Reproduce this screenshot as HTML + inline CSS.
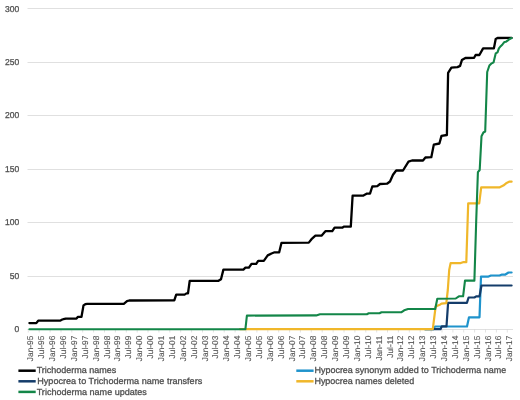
<!DOCTYPE html>
<html><head><meta charset="utf-8"><style>
html,body{margin:0;padding:0;background:#fff;}
svg{display:block;will-change:transform;}
text{font-family:"Liberation Sans",sans-serif;text-rendering:geometricPrecision;fill:#505050;stroke:#505050;stroke-width:0.3px;}
.xl{stroke-width:0.12px;fill:#555;stroke:#555;}
</style></head><body>
<svg width="520" height="400" viewBox="0 0 520 400">
<rect width="520" height="400" fill="#fff"/>

<line x1="27.5" y1="329.5" x2="513" y2="329.5" stroke="#e0e0e0" stroke-width="1"/>
<line x1="27.5" y1="276.5" x2="513" y2="276.5" stroke="#e0e0e0" stroke-width="1"/>
<line x1="27.5" y1="222.5" x2="513" y2="222.5" stroke="#e0e0e0" stroke-width="1"/>
<line x1="27.5" y1="169.5" x2="513" y2="169.5" stroke="#e0e0e0" stroke-width="1"/>
<line x1="27.5" y1="115.5" x2="513" y2="115.5" stroke="#e0e0e0" stroke-width="1"/>
<line x1="27.5" y1="62.5" x2="513" y2="62.5" stroke="#e0e0e0" stroke-width="1"/>
<line x1="27.5" y1="8.5" x2="513" y2="8.5" stroke="#e0e0e0" stroke-width="1"/>
<line x1="28.3" y1="329.0" x2="28.3" y2="332.5" stroke="#d9d9d9" stroke-width="0.75"/>
<line x1="39.2" y1="329.0" x2="39.2" y2="332.5" stroke="#d9d9d9" stroke-width="0.75"/>
<line x1="50.1" y1="329.0" x2="50.1" y2="332.5" stroke="#d9d9d9" stroke-width="0.75"/>
<line x1="61.0" y1="329.0" x2="61.0" y2="332.5" stroke="#d9d9d9" stroke-width="0.75"/>
<line x1="71.8" y1="329.0" x2="71.8" y2="332.5" stroke="#d9d9d9" stroke-width="0.75"/>
<line x1="82.7" y1="329.0" x2="82.7" y2="332.5" stroke="#d9d9d9" stroke-width="0.75"/>
<line x1="93.6" y1="329.0" x2="93.6" y2="332.5" stroke="#d9d9d9" stroke-width="0.75"/>
<line x1="104.5" y1="329.0" x2="104.5" y2="332.5" stroke="#d9d9d9" stroke-width="0.75"/>
<line x1="115.4" y1="329.0" x2="115.4" y2="332.5" stroke="#d9d9d9" stroke-width="0.75"/>
<line x1="126.3" y1="329.0" x2="126.3" y2="332.5" stroke="#d9d9d9" stroke-width="0.75"/>
<line x1="137.2" y1="329.0" x2="137.2" y2="332.5" stroke="#d9d9d9" stroke-width="0.75"/>
<line x1="148.0" y1="329.0" x2="148.0" y2="332.5" stroke="#d9d9d9" stroke-width="0.75"/>
<line x1="158.9" y1="329.0" x2="158.9" y2="332.5" stroke="#d9d9d9" stroke-width="0.75"/>
<line x1="169.8" y1="329.0" x2="169.8" y2="332.5" stroke="#d9d9d9" stroke-width="0.75"/>
<line x1="180.7" y1="329.0" x2="180.7" y2="332.5" stroke="#d9d9d9" stroke-width="0.75"/>
<line x1="191.6" y1="329.0" x2="191.6" y2="332.5" stroke="#d9d9d9" stroke-width="0.75"/>
<line x1="202.5" y1="329.0" x2="202.5" y2="332.5" stroke="#d9d9d9" stroke-width="0.75"/>
<line x1="213.4" y1="329.0" x2="213.4" y2="332.5" stroke="#d9d9d9" stroke-width="0.75"/>
<line x1="224.2" y1="329.0" x2="224.2" y2="332.5" stroke="#d9d9d9" stroke-width="0.75"/>
<line x1="235.1" y1="329.0" x2="235.1" y2="332.5" stroke="#d9d9d9" stroke-width="0.75"/>
<line x1="246.0" y1="329.0" x2="246.0" y2="332.5" stroke="#d9d9d9" stroke-width="0.75"/>
<line x1="256.9" y1="329.0" x2="256.9" y2="332.5" stroke="#d9d9d9" stroke-width="0.75"/>
<line x1="267.8" y1="329.0" x2="267.8" y2="332.5" stroke="#d9d9d9" stroke-width="0.75"/>
<line x1="278.7" y1="329.0" x2="278.7" y2="332.5" stroke="#d9d9d9" stroke-width="0.75"/>
<line x1="289.6" y1="329.0" x2="289.6" y2="332.5" stroke="#d9d9d9" stroke-width="0.75"/>
<line x1="300.4" y1="329.0" x2="300.4" y2="332.5" stroke="#d9d9d9" stroke-width="0.75"/>
<line x1="311.3" y1="329.0" x2="311.3" y2="332.5" stroke="#d9d9d9" stroke-width="0.75"/>
<line x1="322.2" y1="329.0" x2="322.2" y2="332.5" stroke="#d9d9d9" stroke-width="0.75"/>
<line x1="333.1" y1="329.0" x2="333.1" y2="332.5" stroke="#d9d9d9" stroke-width="0.75"/>
<line x1="344.0" y1="329.0" x2="344.0" y2="332.5" stroke="#d9d9d9" stroke-width="0.75"/>
<line x1="354.9" y1="329.0" x2="354.9" y2="332.5" stroke="#d9d9d9" stroke-width="0.75"/>
<line x1="365.8" y1="329.0" x2="365.8" y2="332.5" stroke="#d9d9d9" stroke-width="0.75"/>
<line x1="376.7" y1="329.0" x2="376.7" y2="332.5" stroke="#d9d9d9" stroke-width="0.75"/>
<line x1="387.5" y1="329.0" x2="387.5" y2="332.5" stroke="#d9d9d9" stroke-width="0.75"/>
<line x1="398.4" y1="329.0" x2="398.4" y2="332.5" stroke="#d9d9d9" stroke-width="0.75"/>
<line x1="409.3" y1="329.0" x2="409.3" y2="332.5" stroke="#d9d9d9" stroke-width="0.75"/>
<line x1="420.2" y1="329.0" x2="420.2" y2="332.5" stroke="#d9d9d9" stroke-width="0.75"/>
<line x1="431.1" y1="329.0" x2="431.1" y2="332.5" stroke="#d9d9d9" stroke-width="0.75"/>
<line x1="442.0" y1="329.0" x2="442.0" y2="332.5" stroke="#d9d9d9" stroke-width="0.75"/>
<line x1="452.9" y1="329.0" x2="452.9" y2="332.5" stroke="#d9d9d9" stroke-width="0.75"/>
<line x1="463.7" y1="329.0" x2="463.7" y2="332.5" stroke="#d9d9d9" stroke-width="0.75"/>
<line x1="474.6" y1="329.0" x2="474.6" y2="332.5" stroke="#d9d9d9" stroke-width="0.75"/>
<line x1="485.5" y1="329.0" x2="485.5" y2="332.5" stroke="#d9d9d9" stroke-width="0.75"/>
<line x1="496.4" y1="329.0" x2="496.4" y2="332.5" stroke="#d9d9d9" stroke-width="0.75"/>
<line x1="507.3" y1="329.0" x2="507.3" y2="332.5" stroke="#d9d9d9" stroke-width="0.75"/>
<text x="19.2" y="332.1" font-size="8.5" text-anchor="end">0</text>
<text x="19.2" y="278.7" font-size="8.5" text-anchor="end">50</text>
<text x="19.2" y="225.2" font-size="8.5" text-anchor="end">100</text>
<text x="19.2" y="171.8" font-size="8.5" text-anchor="end">150</text>
<text x="19.2" y="118.4" font-size="8.5" text-anchor="end">200</text>
<text x="19.2" y="64.9" font-size="8.5" text-anchor="end">250</text>
<text x="19.2" y="11.5" font-size="8.5" text-anchor="end">300</text>
<text transform="translate(33.3,335.6) rotate(-90)" class="xl" font-size="8.4" text-anchor="end">Jan-95</text>
<text transform="translate(44.2,335.6) rotate(-90)" class="xl" font-size="8.4" text-anchor="end">Jul-95</text>
<text transform="translate(55.1,335.6) rotate(-90)" class="xl" font-size="8.4" text-anchor="end">Jan-96</text>
<text transform="translate(66.0,335.6) rotate(-90)" class="xl" font-size="8.4" text-anchor="end">Jul-96</text>
<text transform="translate(76.8,335.6) rotate(-90)" class="xl" font-size="8.4" text-anchor="end">Jan-97</text>
<text transform="translate(87.7,335.6) rotate(-90)" class="xl" font-size="8.4" text-anchor="end">Jul-97</text>
<text transform="translate(98.6,335.6) rotate(-90)" class="xl" font-size="8.4" text-anchor="end">Jan-98</text>
<text transform="translate(109.5,335.6) rotate(-90)" class="xl" font-size="8.4" text-anchor="end">Jul-98</text>
<text transform="translate(120.4,335.6) rotate(-90)" class="xl" font-size="8.4" text-anchor="end">Jan-99</text>
<text transform="translate(131.3,335.6) rotate(-90)" class="xl" font-size="8.4" text-anchor="end">Jul-99</text>
<text transform="translate(142.2,335.6) rotate(-90)" class="xl" font-size="8.4" text-anchor="end">Jan-00</text>
<text transform="translate(153.0,335.6) rotate(-90)" class="xl" font-size="8.4" text-anchor="end">Jul-00</text>
<text transform="translate(163.9,335.6) rotate(-90)" class="xl" font-size="8.4" text-anchor="end">Jan-01</text>
<text transform="translate(174.8,335.6) rotate(-90)" class="xl" font-size="8.4" text-anchor="end">Jul-01</text>
<text transform="translate(185.7,335.6) rotate(-90)" class="xl" font-size="8.4" text-anchor="end">Jan-02</text>
<text transform="translate(196.6,335.6) rotate(-90)" class="xl" font-size="8.4" text-anchor="end">Jul-02</text>
<text transform="translate(207.5,335.6) rotate(-90)" class="xl" font-size="8.4" text-anchor="end">Jan-03</text>
<text transform="translate(218.4,335.6) rotate(-90)" class="xl" font-size="8.4" text-anchor="end">Jul-03</text>
<text transform="translate(229.2,335.6) rotate(-90)" class="xl" font-size="8.4" text-anchor="end">Jan-04</text>
<text transform="translate(240.1,335.6) rotate(-90)" class="xl" font-size="8.4" text-anchor="end">Jul-04</text>
<text transform="translate(251.0,335.6) rotate(-90)" class="xl" font-size="8.4" text-anchor="end">Jan-05</text>
<text transform="translate(261.9,335.6) rotate(-90)" class="xl" font-size="8.4" text-anchor="end">Jul-05</text>
<text transform="translate(272.8,335.6) rotate(-90)" class="xl" font-size="8.4" text-anchor="end">Jan-06</text>
<text transform="translate(283.7,335.6) rotate(-90)" class="xl" font-size="8.4" text-anchor="end">Jul-06</text>
<text transform="translate(294.6,335.6) rotate(-90)" class="xl" font-size="8.4" text-anchor="end">Jan-07</text>
<text transform="translate(305.4,335.6) rotate(-90)" class="xl" font-size="8.4" text-anchor="end">Jul-07</text>
<text transform="translate(316.3,335.6) rotate(-90)" class="xl" font-size="8.4" text-anchor="end">Jan-08</text>
<text transform="translate(327.2,335.6) rotate(-90)" class="xl" font-size="8.4" text-anchor="end">Jul-08</text>
<text transform="translate(338.1,335.6) rotate(-90)" class="xl" font-size="8.4" text-anchor="end">Jan-09</text>
<text transform="translate(349.0,335.6) rotate(-90)" class="xl" font-size="8.4" text-anchor="end">Jul-09</text>
<text transform="translate(359.9,335.6) rotate(-90)" class="xl" font-size="8.4" text-anchor="end">Jan-10</text>
<text transform="translate(370.8,335.6) rotate(-90)" class="xl" font-size="8.4" text-anchor="end">Jul-10</text>
<text transform="translate(381.7,335.6) rotate(-90)" class="xl" font-size="8.4" text-anchor="end">Jan-11</text>
<text transform="translate(392.5,335.6) rotate(-90)" class="xl" font-size="8.4" text-anchor="end">Jul-11</text>
<text transform="translate(403.4,335.6) rotate(-90)" class="xl" font-size="8.4" text-anchor="end">Jan-12</text>
<text transform="translate(414.3,335.6) rotate(-90)" class="xl" font-size="8.4" text-anchor="end">Jul-12</text>
<text transform="translate(425.2,335.6) rotate(-90)" class="xl" font-size="8.4" text-anchor="end">Jan-13</text>
<text transform="translate(436.1,335.6) rotate(-90)" class="xl" font-size="8.4" text-anchor="end">Jul-13</text>
<text transform="translate(447.0,335.6) rotate(-90)" class="xl" font-size="8.4" text-anchor="end">Jan-14</text>
<text transform="translate(457.9,335.6) rotate(-90)" class="xl" font-size="8.4" text-anchor="end">Jul-14</text>
<text transform="translate(468.7,335.6) rotate(-90)" class="xl" font-size="8.4" text-anchor="end">Jan-15</text>
<text transform="translate(479.6,335.6) rotate(-90)" class="xl" font-size="8.4" text-anchor="end">Jul-15</text>
<text transform="translate(490.5,335.6) rotate(-90)" class="xl" font-size="8.4" text-anchor="end">Jan-16</text>
<text transform="translate(501.4,335.6) rotate(-90)" class="xl" font-size="8.4" text-anchor="end">Jul-16</text>
<text transform="translate(512.3,335.6) rotate(-90)" class="xl" font-size="8.4" text-anchor="end">Jan-17</text>
<polyline points="29.4,323.1 36.3,323.1 38.2,320.7 60.0,320.7 62.3,319.5 63.5,319.2 65.8,318.6 76.5,318.6 78.0,316.8 81.5,316.8 83.5,305.4 85.3,304.2 87.3,303.8 123.8,303.8 127.0,301.2 129.2,300.5 174.3,300.3 176.2,294.6 184.6,294.6 186.5,293.4 188.0,293.4 189.7,280.8 218.5,280.8 221.0,279.2 223.4,269.6 243.4,269.6 245.4,267.7 248.9,267.7 251.5,263.8 256.2,263.8 258.2,260.8 263.8,260.8 267.7,255.4 271.5,253.5 274.6,252.3 279.2,252.3 281.5,242.8 308.8,242.6 311.5,239.2 315.4,235.7 321.5,235.7 325.4,231.2 332.3,231.2 334.6,227.7 342.3,227.7 343.8,226.6 350.8,226.6 352.6,195.7 363.0,195.7 367.0,193.6 370.0,193.6 372.3,186.5 377.3,186.2 380.0,184.0 387.0,183.7 390.0,181.5 393.0,174.8 396.2,170.5 403.0,170.5 408.5,161.7 412.0,160.5 423.0,160.5 425.4,157.5 431.3,157.2 433.8,144.6 439.4,143.5 441.5,135.9 446.9,135.0 448.1,72.9 451.4,67.7 457.5,67.1 460.1,65.9 461.9,60.1 465.4,58.0 474.1,57.8 475.6,55.0 479.4,55.0 483.1,48.4 493.9,48.4 495.7,39.0 497.5,38.0 511.6,37.9" fill="none" stroke="#000000" stroke-width="2.3" stroke-linejoin="round" stroke-linecap="round"/>
<polyline points="425.0,329.2 433.3,329.2 435.0,326.5 467.0,326.5 469.0,317.3 479.5,317.3 481.0,276.6 488.5,276.6 491.0,275.5 499.5,275.5 501.5,274.7 505.0,274.7 508.5,272.5 511.6,272.5" fill="none" stroke="#1f93cc" stroke-width="2.2" stroke-linejoin="round" stroke-linecap="round"/>
<polyline points="425.0,329.2 440.5,329.2 441.8,326.3 446.5,326.3 448.1,302.9 466.9,302.9 468.6,297.5 474.4,297.5 476.2,296.3 479.5,296.3 481.5,285.5 511.6,285.5" fill="none" stroke="#143c6a" stroke-width="2.2" stroke-linejoin="round" stroke-linecap="round"/>
<polyline points="240.0,329.2 432.8,329.2 435.6,306.8 437.3,305.8 440.0,304.7 441.5,303.7 446.3,303.1 447.8,290.0 449.2,270.0 450.6,263.1 460.7,263.1 463.0,262.2 466.3,262.2 468.2,203.4 479.2,203.4 481.2,187.3 499.8,187.3 503.3,185.6 506.1,183.3 509.6,181.5 511.6,181.7" fill="none" stroke="#f0b72a" stroke-width="2.2" stroke-linejoin="round" stroke-linecap="round"/>
<polyline points="29.4,329.2 245.4,329.2 246.9,315.6 316.2,315.4 320.0,314.2 366.9,314.2 368.8,313.2 379.5,313.2 381.5,312.2 401.6,312.2 404.2,310.3 408.1,309.0 435.2,309.0 437.3,298.8 455.7,298.5 458.9,296.3 463.1,296.3 465.0,280.6 474.4,280.6 476.2,221.0 477.9,172.2 479.7,170.0 481.5,136.2 483.4,132.5 485.2,131.5 487.2,72.0 489.4,65.5 491.2,63.7 493.6,62.3 495.7,53.4 497.5,52.3 498.9,48.4 500.7,46.2 502.5,44.4 504.3,42.1 506.1,41.7 507.9,40.3 509.7,39.0 511.6,38.0" fill="none" stroke="#138648" stroke-width="2.1" stroke-linejoin="round" stroke-linecap="round"/>
<line x1="18.4" y1="370.7" x2="35.7" y2="370.7" stroke="#000000" stroke-width="2.5"/>
<text x="36.68" y="373.3" font-size="8.8" textLength="79.66" lengthAdjust="spacingAndGlyphs">Trichoderma names</text>
<line x1="18.4" y1="381.3" x2="35.7" y2="381.3" stroke="#143c6a" stroke-width="2.5"/>
<text x="37.26" y="383.9" font-size="8.8" textLength="164.98" lengthAdjust="spacingAndGlyphs">Hypocrea to Trichoderma name transfers</text>
<line x1="18.4" y1="391.9" x2="35.7" y2="391.9" stroke="#138648" stroke-width="2.5"/>
<text x="36.70" y="394.5" font-size="8.8" textLength="110.15" lengthAdjust="spacingAndGlyphs">Trichoderma name updates</text>
<line x1="296.3" y1="370.7" x2="313.6" y2="370.7" stroke="#1f93cc" stroke-width="2.5"/>
<text x="314.41" y="373.3" font-size="8.8" textLength="191.83" lengthAdjust="spacingAndGlyphs">Hypocrea synonym added to Trichoderma name</text>
<line x1="296.3" y1="381.3" x2="313.6" y2="381.3" stroke="#f0b72a" stroke-width="2.5"/>
<text x="314.41" y="383.9" font-size="8.8" textLength="99.73" lengthAdjust="spacingAndGlyphs">Hypocrea names deleted</text>
</svg></body></html>
